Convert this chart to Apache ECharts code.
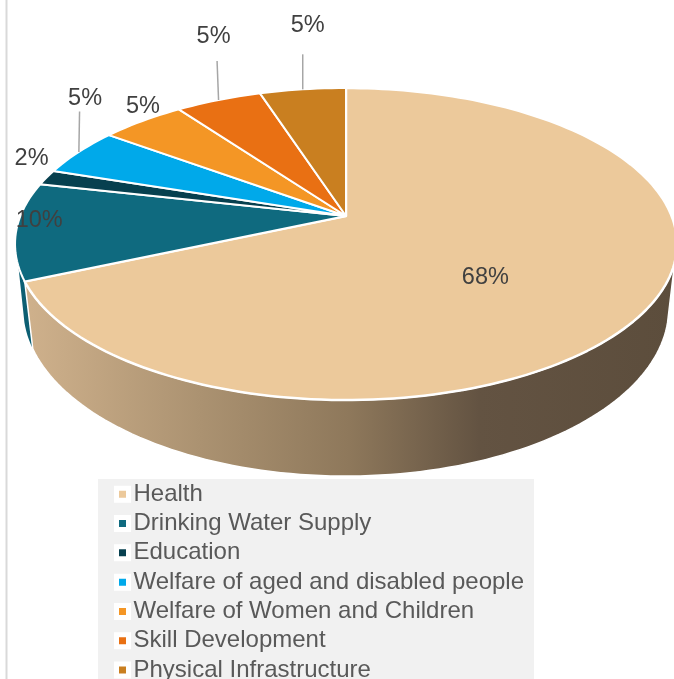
<!DOCTYPE html>
<html><head><meta charset="utf-8">
<style>html,body{margin:0;padding:0;background:#fff;overflow:hidden}#c{width:674px;height:679px}</style>
<script src="https://cdn.jsdelivr.net/npm/echarts@6/dist/echarts.min.js"></script>
</head><body><div id="c"></div>
<script>
const categories = ['Health','Drinking Water Supply','Education','Welfare of aged and disabled people','Welfare of Women and Children','Skill Development','Physical Infrastructure'];
const shareValues = [68.4, 10.1, 1.6, 5, 4.9, 5, 5];
const shareLabels = ['68%','10%','2%','5%','5%','5%','5%'];
const colors = ['#ecc99b','#0f6a7f','#07404f','#00a9ea','#f49625','#e97013','#c97f20'];
// label placement relative to each slice's outer-rim midpoint
const labelOffsets = [[-163,-30],[23,-10.5],[-15,-18.6],[6.2,-53],[0.5,-14],[-5,-63],[5,-64]];
const leaderEnds = [null,null,null,[0.7,-40.5],null,[-1.5,-39],[0,-35]];

// perspective view of the pie disc
const cx = 346, cy = 216, A = 325.6, B = 151, K = 0.1795, DEPTH = 62.4, BASE_SCALE = 0.975;
const total = shareValues.reduce((a,b)=>a+b,0);
const rim = (deg, lower) => {
  const t = deg*Math.PI/180, u = Math.sin(t), v = -Math.cos(t), w = 1-K*v;
  const s = lower ? BASE_SCALE : 1;
  return [cx + A*s*u/w, cy + (B*v + (lower ? DEPTH : 0))/w];
};
const arc = (a0, a1, lower) => {
  const n = Math.max(2, Math.ceil(Math.abs(a1-a0)/1.5)), pts = [];
  for (let i=0;i<=n;i++) pts.push(rim(a0+(a1-a0)*i/n, lower));
  return pts;
};
const wallGradient = new echarts.graphic.LinearGradient(25,0,674,0,[
  {offset:0,color:'#cfb18c'},{offset:0.27,color:'#ab9271'},{offset:0.5,color:'#8e785b'},
  {offset:0.7,color:'#635342'},{offset:1,color:'#5c4d3c'}],true);

const series = categories.map((name,i)=>({
  name, type:'custom', coordinateSystem:'none', silent:true, animation:false,
  itemStyle:{color:colors[i]},
  data:[[shareValues[i]]],
  renderItem(params, api){
    const val = api.value(0);
    const before = shareValues.slice(0,i).reduce((a,b)=>a+b,0);
    const a0 = before/total*360, a1 = a0 + val/total*360, mid = (a0+a1)/2;
    const children = [];
    // side wall: the rim range facing the viewer, joined by the cylinder's silhouette
    const t0 = Math.max(a0,100), t1 = Math.min(a1,262), b0 = Math.max(a0,105), b1 = Math.min(a1,255);
    if (t1 > t0 && b1 > b0) {
      children.push({type:'polygon', z2:i===0?3:2,
        shape:{points:arc(t0,t1,false).concat(arc(b1,b0,true))},
        style:{fill:i===0?wallGradient:'#0c5f73', stroke:i===0?'#fff':null, lineWidth:i===0?1.5:0}});
    }
    children.push({type:'polygon', z2:10,
      shape:{points:[[cx,cy]].concat(arc(a0,a1,false))},
      style:{fill:colors[i], stroke:'#fff', lineWidth:i===0?2.5:2, lineJoin:'round'}});
    const m = rim(mid,false), off = labelOffsets[i], le = leaderEnds[i];
    if (le) {
      children.push({type:'line', z2:11,
        shape:{x1:m[0],y1:m[1],x2:m[0]+le[0],y2:m[1]+le[1]},
        style:{stroke:'#a6a6a6', lineWidth:1.5}});
    }
    children.push({type:'text', z2:20, style:{
      text:shareLabels[i], x:m[0]+off[0], y:m[1]+off[1], align:'center', verticalAlign:'middle',
      fill:'#404040', font:'23.5px "Liberation Sans", Arial, sans-serif'}});
    return {type:'group', children};
  }
}));

const chart = echarts.init(document.getElementById('c'),null,{renderer:'canvas'});
chart.setOption({
  backgroundColor:'#fff', animation:false,
  graphic:[{type:'rect', left:5.5, top:0, z:0, shape:{width:2,height:679}, style:{fill:'#d9d9d9'}}],
  legend:{
    orient:'vertical', left:98, top:479, height:300, selectedMode:false,
    backgroundColor:'#f1f1f1', padding:[2.5,10,10,16],
    icon:'rect', itemWidth:12, itemHeight:12, itemGap:3.8, itemStyle:{borderColor:'#fff',borderWidth:5},
    textStyle:{color:'#595959', fontSize:24, fontFamily:'"Liberation Sans", Arial, sans-serif', lineHeight:25.5},
    data:categories
  },
  series
});
</script></body></html>
